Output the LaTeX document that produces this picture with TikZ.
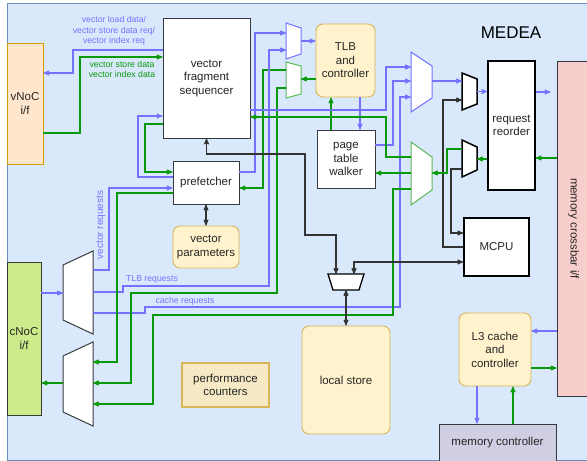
\documentclass[tikz,border=0pt]{standalone}
\usepackage{fontspec}
\setmainfont{Liberation Sans}
\usetikzlibrary{arrows,patterns,shadows}
\definecolor{framefill}{HTML}{DAE8FC}
\definecolor{frameline}{HTML}{6C8EBF}
\definecolor{vnocfill}{HTML}{FFE6CC}
\definecolor{vnocline}{HTML}{D79B00}
\definecolor{cnocfill}{HTML}{CDEB8B}
\definecolor{darkline}{HTML}{36393D}
\definecolor{yelfill}{HTML}{FFF2CC}
\definecolor{yelline}{HTML}{D6B656}
\definecolor{xbarfill}{HTML}{F8CECC}
\definecolor{memfill}{HTML}{D0CEE2}
\definecolor{reqblue}{HTML}{7373FF}
\definecolor{rspgreen}{HTML}{0A990A}
\definecolor{muxgreen}{HTML}{5CB85C}
\definecolor{ctrlgray}{HTML}{333333}
\definecolor{hatch}{HTML}{E2D9B8}
\newcommand{\bigsz}{\fontsize{11.5}{13.5}\selectfont}
\newcommand{\smallsz}{\fontsize{8.7}{10.5}\selectfont}
\tikzstyle{unitbox}=[draw=darkline, fill=white, line width=0.9pt, align=center, font=\bigsz, inner sep=1pt, text=black!85]
\tikzstyle{storebox}=[unitbox, rounded corners=7pt, fill=yelfill, draw=yelline]
\tikzstyle{sketchbox}=[unitbox, draw=black, line width=1.3pt, drop shadow={shadow xshift=1.2pt, shadow yshift=-1.2pt, opacity=0.35}]
\tikzstyle{muxport}=[inner sep=0pt, outer sep=0pt]
\tikzstyle{reqwire}=[draw=reqblue, line width=1.1pt, ->]
\tikzstyle{rspwire}=[draw=rspgreen, line width=1.1pt, ->]
\tikzstyle{ctlwire}=[draw=ctrlgray, line width=1.1pt]
\tikzstyle{wirelbl}=[font=\smallsz, align=center, inner sep=0pt]
% mux outlines drawn on a named port node
\newcommand{\muxwl}[3]{\draw[#2] (#1.north west) -- ([yshift=-#3pt]#1.north east) -- ([yshift=#3pt]#1.south east) -- (#1.south west) -- cycle;}
\newcommand{\muxwr}[3]{\draw[#2] ([yshift=-#3pt]#1.north west) -- (#1.north east) -- (#1.south east) -- ([yshift=#3pt]#1.south west) -- cycle;}
\newcommand{\muxwd}[3]{\draw[#2] (#1.north west) -- (#1.north east) -- ([xshift=-#3pt]#1.south east) -- ([xshift=#3pt]#1.south west) -- cycle;}

\begin{document}
\begin{tikzpicture}[x=1pt, y=-1pt, >=stealth']
\useasboundingbox (0,0) rectangle (587,461);
\clip (0,0) rectangle (587,461);
\draw[fill=framefill, draw=frameline, line width=1pt] (7,3) rectangle (600,460);
\node[font=\fontsize{17}{20}\selectfont] (title) at (511,33) {MEDEA};

% blocks
\node[unitbox, fill=vnocfill, draw=vnocline, minimum width=36pt, minimum height=121pt] (vnoc) at (25,103.5) {vNoC\\i/f};
\node[unitbox, fill=cnocfill, minimum width=34pt, minimum height=153pt] (cnoc) at (24,338.5) {cNoC\\i/f};
\node[unitbox, minimum width=87pt, minimum height=120pt] (seq) at (206.5,78) {vector\\fragment\\sequencer};
\node[unitbox, minimum width=66pt, minimum height=43pt] (pref) at (206,182.5) {prefetcher};
\node[storebox, minimum width=66pt, minimum height=42pt] (vparam) at (206,247) {vector\\parameters};
\node[storebox, minimum width=59pt, minimum height=73pt] (tlb) at (345.5,60.5) {TLB\\and\\controller};
\node[unitbox, minimum width=58pt, minimum height=58pt] (ptw) at (346,159) {page\\table\\walker};
\node[sketchbox, minimum width=47pt, minimum height=129pt] (reorder) at (511.5,125.5) {request\\reorder};
\node[unitbox, fill=xbarfill, minimum width=33pt, minimum height=335pt] (xbar) at (573.5,228.5) {};
\node[rotate=-90, font=\bigsz, text=black!85] (xbarlbl) at (xbar.center) {memory crossbar i/f};
\node[sketchbox, minimum width=65pt, minimum height=58pt] (mcpu) at (496.5,247) {MCPU};
\node[storebox, minimum width=88pt, minimum height=108pt] (ls) at (346,380) {local store};
\node[storebox, minimum width=72pt, minimum height=73pt] (l3) at (495,349.5) {L3 cache\\and\\controller};
\node[unitbox, fill=memfill, minimum width=117pt, minimum height=38pt] (memctl) at (497.5,443) {memory controller};
\node[unitbox, draw=yelline, line width=1.5pt, preaction={fill=yelfill}, pattern=north east lines, pattern color=hatch, minimum width=87pt, minimum height=44pt] (perf) at (225.5,385) {performance\\counters};

% muxes
\node[muxport, minimum width=15pt, minimum height=36pt] (tlbmux) at (293.5,41) {};
\node[muxport, minimum width=15pt, minimum height=36pt] (tlbdemux) at (293.5,80) {};
\node[muxport, minimum width=21pt, minimum height=60pt] (bigmux) at (421.5,82) {};
\node[muxport, minimum width=21pt, minimum height=63pt] (rspdemux) at (421.5,173.5) {};
\node[muxport, minimum width=15pt, minimum height=37pt] (reqmux) at (469.5,91.5) {};
\node[muxport, minimum width=15pt, minimum height=37pt] (rspmux) at (469.5,158.5) {};
\node[muxport, minimum width=30pt, minimum height=83pt] (cdemux) at (78,292.5) {};
\node[muxport, minimum width=30pt, minimum height=84pt] (cmux) at (78,384) {};
\node[muxport, minimum width=36pt, minimum height=16pt] (lsmux) at (346,282) {};
\muxwl{tlbmux}{draw=reqblue, fill=white, line width=1pt}{5}
\muxwl{tlbdemux}{draw=muxgreen, fill=white, line width=1pt}{4}
\muxwl{bigmux}{draw=reqblue, fill=white, line width=1pt}{14}
\muxwl{rspdemux}{draw=muxgreen, fill=white, line width=1pt}{15}
\muxwl{reqmux}{draw=black, fill=white, line width=1.5pt}{6}
\muxwl{rspmux}{draw=black, fill=white, line width=1.5pt}{7}
\muxwr{cdemux}{draw=darkline, fill=white, line width=1pt}{14}
\muxwr{cmux}{draw=darkline, fill=white, line width=1pt}{14}
\muxwd{lsmux}{draw=black, fill=white, line width=1.3pt}{5}

% vNoC side
\draw[reqwire] (seq.west |- 0,50) -| (73,73) -- (vnoc.east |- 0,73);
\draw[rspwire] (vnoc.east |- 0,133) -| (80,57) -- (seq.west |- 0,57);
\node[wirelbl, text=reqblue] (lblvload) at (114,31) {vector load data/\\vector store data req/\\vector index req};
\node[wirelbl, text=rspgreen] (lblvstore) at (122,69.5) {vector store data\\vector index data};

% sequencer and prefetcher
\draw[reqwire] (pref.west |- 0,177) -| (138,116) -- (seq.west |- 0,116);
\draw[rspwire] (seq.west |- 0,124) -| (145,172) -- (pref.west |- 0,172);
\draw[ctlwire, <->] (pref.south) -- (vparam.north);
\draw[reqwire] (pref.east |- 0,172) -| (255,33) -- (tlbmux.west |- 0,33);
\draw[rspwire] (tlbdemux.west |- 0,70) -| (263,188) -- (pref.east |- 0,188);

% cNoC side
\draw[reqwire] (cnoc.east |- 0,293) -- (cdemux.west |- 0,293);
\draw[rspwire] (cmux.west |- 0,383) -- (cnoc.east |- 0,383);
\draw[reqwire] (cdemux.east |- 0,270) -| (109,188) -- (pref.west |- 0,188);
\draw[reqwire] (cdemux.east |- 0,292) -- (123,292) -- (123,286) -| (269,50) -- (tlbmux.west |- 0,50);
\draw[reqwire] (cdemux.east |- 0,313) -- (145,313) -- (145,307) -| (400,97) -- (bigmux.west |- 0,97);
\node[wirelbl, text=reqblue, rotate=90, font=\fontsize{10}{12}\selectfont] (lblvreq) at (101,225) {vector requests};
\node[wirelbl, text=reqblue] (lbltlbreq) at (152,279) {TLB requests};
\node[wirelbl, text=reqblue] (lblcachereq) at (185,301) {cache requests};
\draw[rspwire] (pref.west |- 0,193) -| (117,362) -- (cmux.east |- 0,362);
\draw[rspwire] (tlbdemux.west |- 0,88) -| (277,293) -| (131,383) -- (cmux.east |- 0,383);
\draw[rspwire] (rspdemux.west |- 0,189) -| (393,315) -| (153,404) -- (cmux.east |- 0,404);

% TLB and walker
\draw[reqwire] (tlbmux.east) -- (tlb.west |- tlbmux.east);
\draw[rspwire] (tlb.west |- 0,79) -- (tlbdemux.east |- 0,79);
\draw[reqwire] (tlb.south -| 360,0) -- (ptw.north -| 360,0);
\draw[rspwire] (ptw.north -| 331,0) -- (tlb.south -| 331,0);

% request path
\draw[reqwire] (seq.east |- 0,110) -| (386,67) -- (bigmux.west |- 0,67);
\draw[reqwire] (ptw.east |- 0,145) -| (393,81) -- (bigmux.west |- 0,81);
\draw[reqwire] (bigmux.east |- 0,81) -- (reqmux.west |- 0,81);
\draw[ctlwire, ->] (mcpu.west |- 0,247) -| (443,100) -- (reqmux.west |- 0,100);
\draw[reqwire] (reqmux.east) -- (reorder.west |- reqmux.east);
\draw[reqwire, shorten >=6pt] (reorder.east |- 0,92) -- (xbar.west |- 0,92);

% response path
\draw[rspwire] (xbar.west |- 0,158) -- (reorder.east |- 0,158);
\draw[rspwire] (reorder.west |- 0,159) -- (rspmux.east |- 0,159);
\draw[rspwire] (rspmux.west |- 0,149) -| (447,173) -- (rspdemux.east |- 0,173);
\draw[ctlwire, ->] (rspmux.west |- 0,169) -| (451,233) -- (mcpu.west |- 0,233);
\draw[rspwire] (rspdemux.west |- 0,157) -| (386,117) -- (seq.east |- 0,117);
\draw[rspwire] (rspdemux.west |- 0,173) -- (ptw.east |- 0,173);

% local store
\draw[ctlwire, <->] (seq.south) |- (305,154) |- (336,235) -- (lsmux.north -| 336,0);
\draw[ctlwire, <->] (mcpu.west |- 0,262) -| (lsmux.north -| 354,0);
\draw[ctlwire, <->] (lsmux.south) -- (ls.north);

% L3 and memory
\draw[reqwire] (xbar.west |- 0,331) -- (l3.east |- 0,331);
\draw[rspwire] (l3.east |- 0,368) -- (xbar.west |- 0,368);
\draw[reqwire] (l3.south -| 477,0) -- (memctl.north -| 477,0);
\draw[rspwire] (memctl.north -| 513,0) -- (l3.south -| 513,0);
\end{tikzpicture}
\end{document}
